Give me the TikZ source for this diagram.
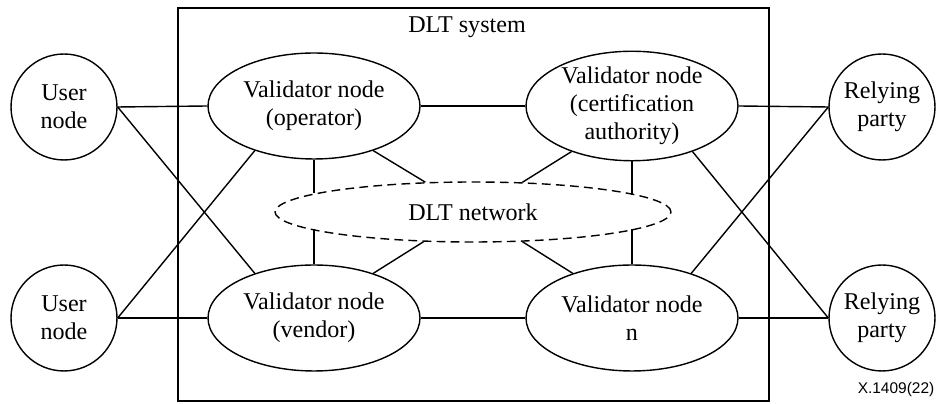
\documentclass[tikz,border=0pt]{standalone}
\usepackage{fontspec}
\setmainfont{Liberation Serif}
\newfontfamily\figsans{Liberation Sans}
\usetikzlibrary{shapes.geometric}

\begin{document}
\begin{tikzpicture}[x=0.02cm,y=-0.02cm,line width=0.8pt,
  every node/.style={font=\fontsize{13.7}{15.8}\selectfont,align=center,inner sep=0pt},
  party/.style={draw,circle,minimum size=2.12cm},
  validator/.style={draw,ellipse,minimum width=4.24cm,minimum height=2.12cm}]

\useasboundingbox (0,0) rectangle (937,404);

% DLT system
\draw (178,8) rectangle (769,401);
\node (sys) at (467,27) {DLT system};

% Validators and network
\node[validator] (valOp) at (314,106) {Validator node\\(operator)};
\node[validator] (valCA) at (632,106) {Validator node\\(certification\\authority)};
\node[validator] (valVen) at (314,318) {Validator node\\(vendor)};
\node[validator] (valN) at (632,318) {Validator node\\n};
\node[draw,ellipse,dashed,dash pattern=on 5pt off 3pt,minimum width=7.92cm,minimum height=1.2cm] (net) at (473,212) {DLT network};

% Users and relying parties
\node[party] (usrA) at (64,107) {User\\node};
\node[party] (usrB) at (64,318) {User\\node};
\node[party] (rpA) at (882,107) {Relying\\party};
\node[party] (rpB) at (882,318) {Relying\\party};

\draw (usrA.east) -- (valOp.west);
\draw (usrA.east) -- (valVen.143);
\draw (usrB.east) -- (valVen.west);
\draw (usrB.east) -- (valOp.217);

\draw (valOp.east) -- (valCA.west);
\draw (valVen.east) -- (valN.west);

\draw (valCA.east) -- (rpA.west);
\draw (valCA.-37) -- (rpB.west);
\draw (valN.east) -- (rpB.west);
\draw (valN.37) -- (rpA.west);

% links to the network
\draw (valOp.south) -- (valOp.south |- net.173.6);
\draw (valOp.-37) -- (net.148.9);
\draw (valCA.south) -- (valCA.south |- net.6.4);
\draw (valCA.217) -- (net.31.1);
\draw (valVen.north) -- (valVen.north |- net.186.4);
\draw (valVen.37) -- (net.211.1);
\draw (valN.north) -- (valN.north |- net.-6.4);
\draw (valN.143) -- (net.-31.1);

\node[font=\figsans\fontsize{8.8}{10}\selectfont] (ref) at (896,390) {X.1409(22)};

\end{tikzpicture}
\end{document}
